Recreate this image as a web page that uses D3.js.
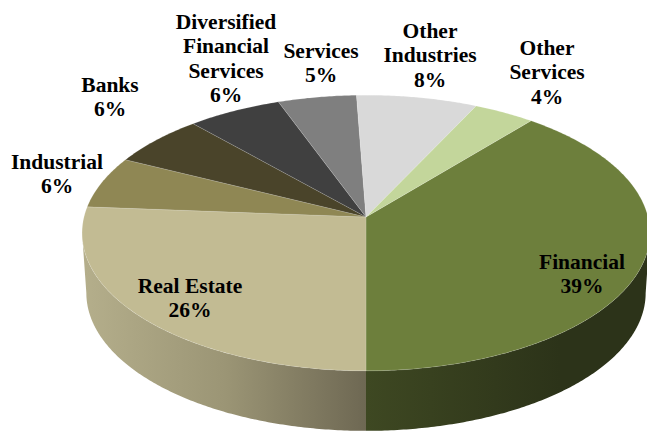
<!DOCTYPE html>
<html>
<head>
<meta charset="utf-8">
<script src="https://cdnjs.cloudflare.com/ajax/libs/d3/7.8.5/d3.min.js"></script>
<style>
  html, body { margin: 0; padding: 0; background: #fff; overflow: hidden; }
  text { font-family: "Liberation Serif", "Times New Roman", serif; font-weight: bold; font-size: 21.5px; fill: #000; }
</style>
</head>
<body>
<div id="chart"></div>
<script>
var width = 647;
var height = 432;

// slices, clockwise from the bottom-right one (labels show them rounded)
var categories = ["Financial", "Real Estate", "Industrial", "Banks", "Diversified Financial Services", "Services", "Other Industries", "Other Services"];
var shares = [39, 26.2, 6.1, 6.1, 6, 5, 7.7, 3.9];
var colors = ["#6d7f3c", "#c2bb93", "#8f8754", "#4a442a", "#404040", "#7f7f7f", "#d9d9d9", "#c3d69b"];

// label lines and where the label blocks sit
var labelLines = [["Financial"], ["Real Estate"], ["Industrial"], ["Banks"], ["Diversified", "Financial", "Services"], ["Services"], ["Other", "Industries"], ["Other", "Services"]];
var labelX = [582, 190, 57, 110, 226, 321, 430, 547];
var labelTop = [262, 286, 162, 85, 22, 51, 31, 48];

var svg = d3
  .select("#chart")
  .append("svg")
  .attr("width", width)
  .attr("height", height)
  .style("display", "block");

// tilted disc: a circle seen in perspective, apex is off the ellipse centre
var cx = 366;
var cy = 217;
var radius = 282;
var squash = 136;
var tilt = -0.116;
var depth = 60;
var bottomScale = 0.985;

function project(angle, scale, dy) {
  var u = Math.sin(angle);
  var v = -Math.cos(angle);
  var w = 1 + tilt * v;
  return [cx + (radius * scale * u) / w, cy + dy + (squash * v) / w];
}

function rimPoints(a0, a1, scale, dy) {
  var n = Math.max(2, Math.ceil((a1 - a0) / 0.01));
  return d3.range(n + 1).map(function (i) {
    return project(a0 + ((a1 - a0) * i) / n, scale, dy);
  });
}

var pie = d3
  .pie()
  .sort(null)
  .startAngle(Math.PI - 0.39 * 2 * Math.PI)
  .endAngle(3 * Math.PI - 0.39 * 2 * Math.PI);

var slices = pie(shares);
var line = d3.line();

// gradients for the side wall
var defs = svg.append("defs");

var gradFin = defs
  .append("linearGradient")
  .attr("id", "wallFinancial")
  .attr("gradientUnits", "userSpaceOnUse")
  .attr("x1", 366)
  .attr("x2", 560)
  .attr("y1", 0)
  .attr("y2", 0);
gradFin.append("stop").attr("offset", 0).attr("stop-color", "#3e4822");
gradFin.append("stop").attr("offset", 1).attr("stop-color", "#2c3319");

var gradReal = defs
  .append("linearGradient")
  .attr("id", "wallReal")
  .attr("gradientUnits", "userSpaceOnUse")
  .attr("x1", 85)
  .attr("x2", 366)
  .attr("y1", 0)
  .attr("y2", 0);
gradReal.append("stop").attr("offset", 0).attr("stop-color", "#b4ae8b");
gradReal.append("stop").attr("offset", 0.5).attr("stop-color", "#9b9575");
gradReal.append("stop").attr("offset", 1).attr("stop-color", "#6e6853");

// only the first two slices show a wall, cut at the widest point of the disc
var wallFills = ["url(#wallFinancial)", "url(#wallReal)"];
var widestRight = Math.acos(tilt);
var widestLeft = 2 * Math.PI - widestRight;

svg
  .selectAll("path.wall")
  .data(slices.slice(0, 2))
  .enter()
  .append("path")
  .attr("class", "wall")
  .attr("d", function (d) {
    var a0 = Math.max(d.startAngle, widestRight);
    var a1 = Math.min(d.endAngle, widestLeft);
    var top = rimPoints(a0, a1, 1, 0);
    var bottom = rimPoints(a0, a1, bottomScale, depth).reverse();
    return line(top.concat(bottom)) + "Z";
  })
  .style("fill", function (d, i) {
    return wallFills[i];
  });

// top face
svg
  .selectAll("path.slice")
  .data(slices)
  .enter()
  .append("path")
  .attr("class", "slice")
  .attr("d", function (d) {
    return line([[cx, cy]].concat(rimPoints(d.startAngle, d.endAngle, 1, 0))) + "Z";
  })
  .style("fill", function (d, i) {
    return colors[i];
  })
  .style("stroke", "#fff")
  .style("stroke-opacity", 0.18)
  .style("stroke-width", 0.8);

// labels
var lineHeight = 24.5;

var labels = svg
  .selectAll("text")
  .data(categories)
  .enter()
  .append("text")
  .attr("text-anchor", "middle")
  .attr("transform", function (d, i) {
    return "translate(" + labelX[i] + "," + labelTop[i] + ")";
  });

labels.each(function (d, i) {
  var rows = labelLines[i].concat([Math.round(shares[i]) + "%"]);
  d3.select(this)
    .selectAll("tspan")
    .data(rows)
    .enter()
    .append("tspan")
    .attr("x", 0)
    .attr("y", function (r, j) {
      return j * lineHeight + 6.5;
    })
    .text(function (r) {
      return r;
    });
});
</script>
</body>
</html>
